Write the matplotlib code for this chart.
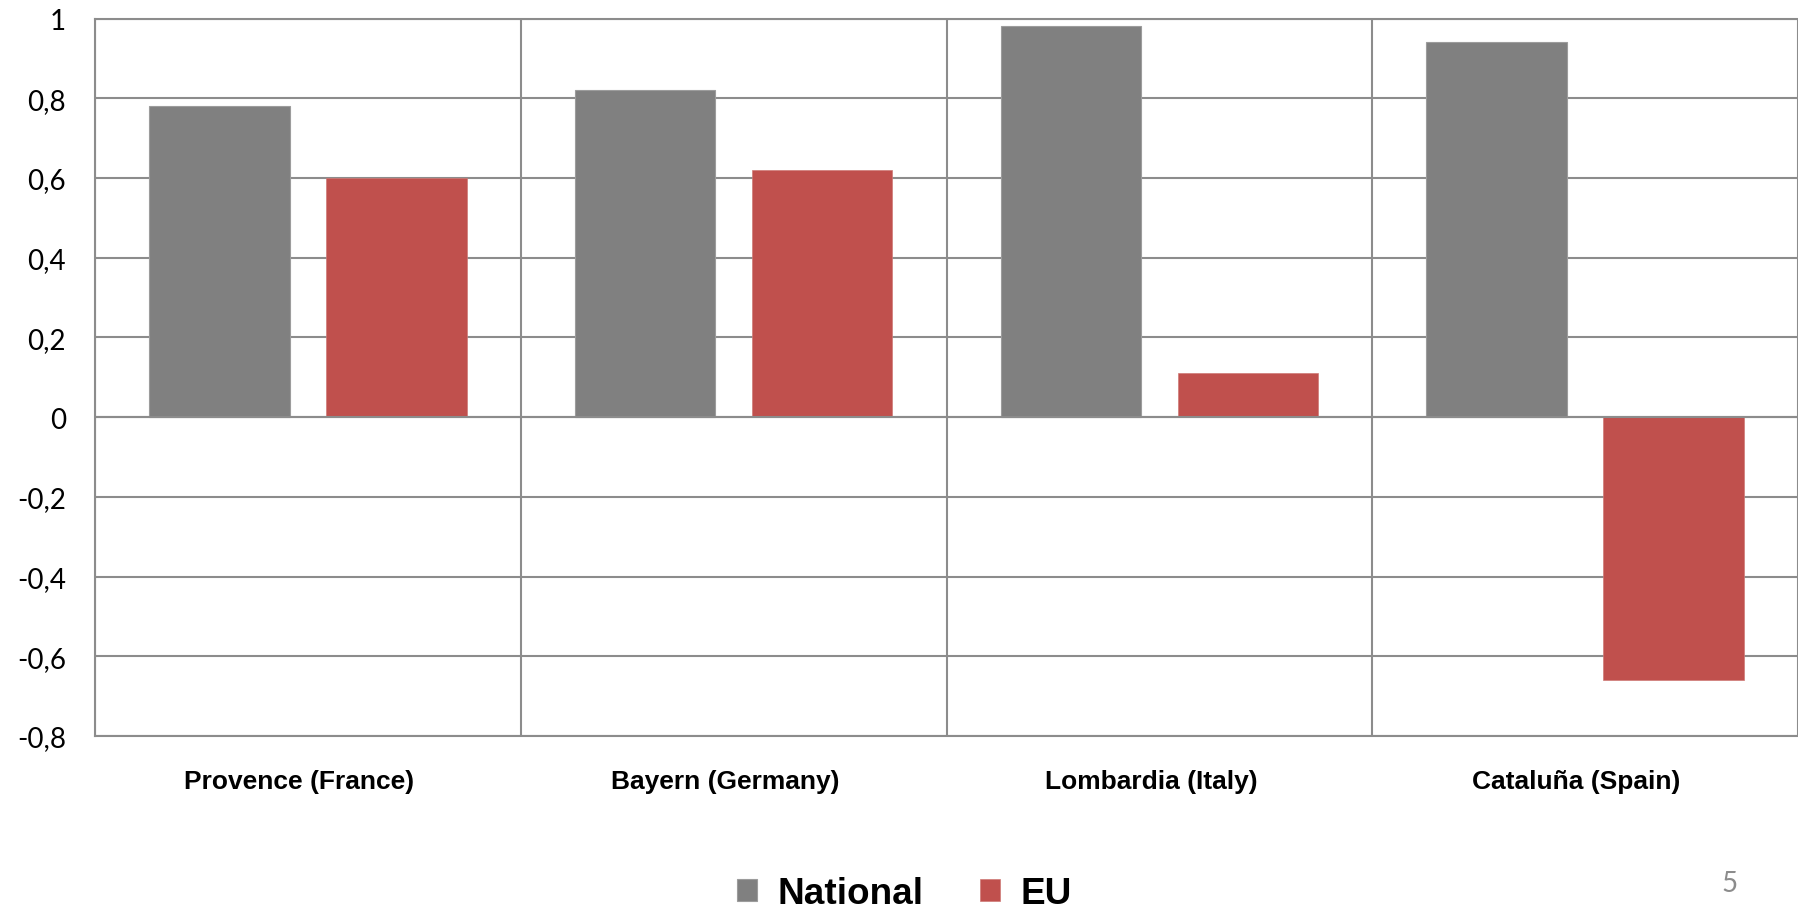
import matplotlib.pyplot as plt
import numpy as np

regions = ['Provence (France)', 'Bayern (Germany)', 'Lombardia (Italy)', 'Cataluña (Spain)']
national = [0.78, 0.82, 0.98, 0.94]
eu = [0.60, 0.62, 0.11, -0.66]
yticks = [-0.8, -0.6, -0.4, -0.2, 0, 0.2, 0.4, 0.6, 0.8, 1.0]
ytick_labels = ['-0,8', '-0,6', '-0,4', '-0,2', '0', '0,2', '0,4', '0,6', '0,8', '1']

grid_col = '#8c8c8c'
gray = '#808080'
red = '#C0504D'

fig = plt.figure(figsize=(17.98, 9.12), dpi=100)
ax = fig.add_axes([95 / 1798, 1 - 737 / 912, 1 - 95 / 1798, (737 - 19.5) / 912])

x = np.arange(len(regions))
w = 0.33
off = 0.208
ax.bar(x - off, national, w, color=gray, edgecolor='#9c9c9c', linewidth=0.8, label='National', zorder=2)
ax.bar(x + off, eu, w, color=red, edgecolor='#cf7a77', linewidth=0.5, label='EU', zorder=2)

ax.set_xlim(-0.5, len(regions) - 0.5)
ax.set_ylim(-0.8, 1.0)
ax.set_yticks(yticks)
ax.set_yticklabels(ytick_labels, family='Lato', fontsize=20)
ax.set_xticks(x - 0.02)
ax.set_xticklabels(regions, family='Liberation Sans', fontweight='bold', fontsize=19)
ax.set_xticks(np.arange(len(regions) + 1) - 0.5, minor=True)
ax.tick_params(axis='both', which='both', length=0)
ax.tick_params(axis='y', pad=21)
ax.tick_params(axis='x', pad=24)

ax.set_axisbelow(True)
ax.grid(axis='y', which='major', color=grid_col, linewidth=1.5)
ax.grid(axis='x', which='minor', color=grid_col, linewidth=1.5)
for s in ax.spines.values():
    s.set_color(grid_col)
    s.set_linewidth(1.5)
ax.spines['right'].set_visible(False)
ax.axhline(0, color=grid_col, linewidth=1.5, zorder=3)

fig.legend(loc='lower left', bbox_to_anchor=(737 / 1798, 0.0), ncol=2, frameon=False,
           prop={'family': 'Liberation Sans', 'weight': 'bold', 'size': 26.6},
           handlelength=0.55, handleheight=0.55, handletextpad=0.54, columnspacing=1.54,
           borderpad=0, borderaxespad=0)

fig.text(1730 / 1798, 1 - 884 / 912, '5', ha='center', va='center', color='#8c8c8c',
         fontsize=20, family='Lato')

fig.savefig('out.png', dpi=100)
